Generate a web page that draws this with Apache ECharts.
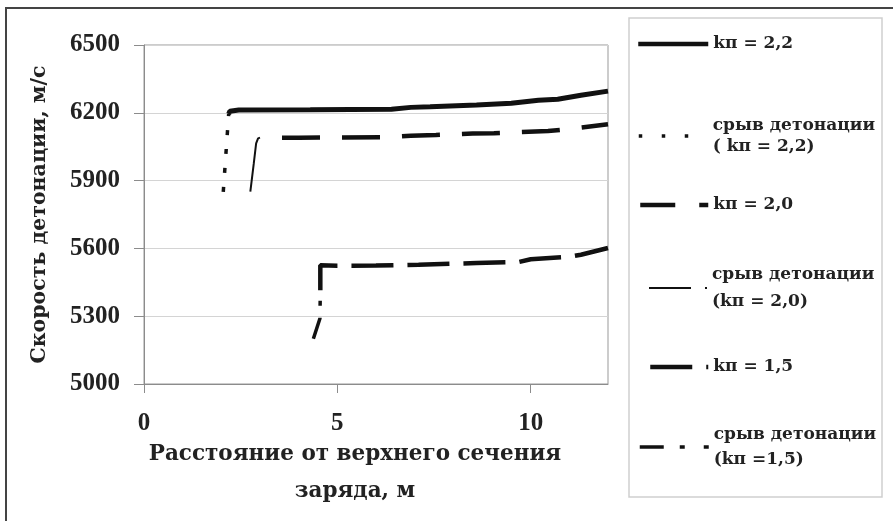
<!DOCTYPE html>
<html><head><meta charset="utf-8">
<script src="https://cdn.jsdelivr.net/npm/echarts@6/dist/echarts.min.js"></script>
<style>html,body{margin:0;padding:0;background:#fff}#c{width:893px;height:521px}</style>
</head><body><div id="c"></div>
<script>
// Data (x: distance, m; y: detonation velocity, m/s)
const k22 = [[2.19,6195],[2.22,6207],[2.45,6212],[4.3,6213],[6.4,6216],[6.9,6224],[7.4,6227],[8.6,6235],[9.5,6242],[10.2,6256],[10.7,6260],[11.3,6278],[12,6296]];
const break22 = [[2.05,5850],[2.19,6195]];
const k20 = [[3.0,6090],[4.0,6090],[6.3,6092],[6.9,6098],[7.55,6102],[8.5,6108],[9.05,6110],[10.45,6119],[11.0,6128],[12,6149]];
const break20 = [[2.75,5851],[2.84,5977],[2.90,6065],[2.95,6087],[3.0,6090]];
const k15 = [[4.56,5415],[4.56,5525],[5.0,5523],[6.0,5524],[7.1,5528],[8.2,5533],[8.6,5535],[9.7,5540],[10.0,5552],[11.0,5563],[11.3,5572],[12,5602]];
const break15 = [[4.38,5200],[4.55,5290],[4.56,5415]];
const names = ['kп = 2,2','срыв детонации\n( kп = 2,2)','kп = 2,0','срыв детонации\n(kп = 2,0)','kп = 1,5','срыв детонации\n(kп =1,5)'];
const yTicks = [5000,5300,5600,5900,6200,6500];
const xTicks = [0,5,10];
const Y0 = 5000; // axis base

const font = 'Liberation Serif';
const font2 = 'DejaVu Serif';
const tc = '#222';
const sh = d => d.map(p => [p[0], p[1] - Y0]);
function line(name, data, width, type, extra){
  return Object.assign({name, type:'line', data: sh(data), symbol:'none', showSymbol:false, silent:true,
    lineStyle:Object.assign({color:'#111', width, type, cap:'butt'}, extra||{}), itemStyle:{color:'#111'}});
}
function leg(name, left, top, w, lh, two, lw, ltype){
  return {data:[name], left, top, itemWidth:w, itemHeight:12, padding:0, orient:'vertical', selectedMode:false,
    itemStyle:{opacity:0, borderWidth:0}, lineStyle:{width:lw, type:ltype, dashOffset:0},
    textStyle:{fontFamily:font2, fontWeight:'bold', fontSize:17, color:tc, lineHeight:lh, padding: two?[lh,0,0,0]:0}};
}
const chart = echarts.init(document.getElementById('c'));
chart.setOption({
  animation:false,
  backgroundColor:'#fff',
  grid:{left:144, top:45, right:285, bottom:137, show:true, borderColor:'#999', borderWidth:1},
  xAxis:{type:'value', min:0, max:12, interval:5,
    axisLine:{lineStyle:{color:'#8c8c8c'}}, axisTick:{length:9, lineStyle:{color:'#8c8c8c'}},
    axisLabel:{margin:27, fontFamily:font, fontWeight:'bold', fontSize:25, color:tc, showMaxLabel:false},
    splitLine:{show:false}},
  yAxis:{type:'value', min:0, max:1500, interval:300,
    name:'Скорость детонации, м/с', nameLocation:'middle', nameGap:94,
    nameTextStyle:{fontFamily:font2, fontWeight:'bold', fontSize:20.5, color:tc},
    axisLine:{show:true, lineStyle:{color:'#8c8c8c'}}, axisTick:{show:true, length:10, lineStyle:{color:'#8c8c8c'}},
    axisLabel:{margin:24, fontFamily:font, fontWeight:'bold', fontSize:25, color:tc, formatter:v => String(v + Y0)},
    splitLine:{lineStyle:{color:'#d4d4d4'}}},
  title:{text:'Расстояние от верхнего сечения\nзаряда, м', left:350, top:431, textAlign:'center',
    textStyle:{fontFamily:font2, fontWeight:'bold', fontSize:21.5, color:tc, lineHeight:37}},
  legend:[
    leg(names[0],636,33,70,22,false,4.5,'solid'),
    leg(names[1],637,104.5,69,21,true,3.5,[3.5,19.5]),
    leg(names[2],638,194,68,22,false,4.5,[35,24,20,10]),
    leg(names[3],648,247.5,58,27,true,2,[42,14,10,10]),
    leg(names[4],648,356,58,22,false,4.5,[42,14,10,10]),
    leg(names[5],638,409.5,69,25,true,3.5,[24,16,5,19,5,20])
  ],
  graphic:[
    {type:'rect', shape:{x:6,y:8,width:900,height:530}, style:{fill:null, stroke:'#444', lineWidth:2}, silent:true},
    {type:'rect', shape:{x:629,y:18,width:253,height:479}, style:{fill:null, stroke:'#cfcfcf', lineWidth:1.5}, silent:true}
  ],
  series:[
    line(names[0], k22, 5, 'solid'),
    line(names[1], break22, 3.5, [5,14]),
    line(names[2], k20, 4.5, [38,22], {dashOffset:38}),
    line(names[3], break20, 2, 'solid'),
    line(names[4], k15, 4.5, [42,14]),
    line(names[5], break15, 3.5, [22,12,5,12,5,12])
  ]
});
</script></body></html>
